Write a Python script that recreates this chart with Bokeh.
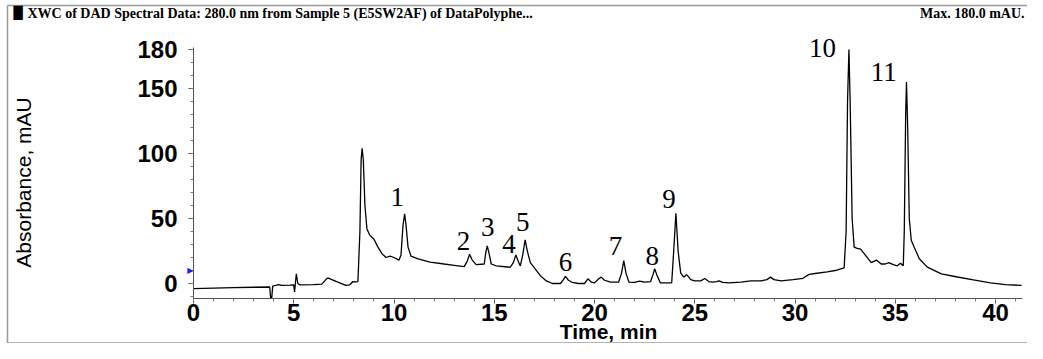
from bokeh.plotting import figure
from bokeh.models import Range1d, FixedTicker, Label, LabelSet, ColumnDataSource
from bokeh.embed import file_html
from bokeh.resources import INLINE

# ---- data ----
time_min = [0.0, 1.0, 2.0, 3.0, 3.80, 3.85, 3.90, 3.95, 4.1, 4.25, 4.4, 4.8, 5.0, 5.04, 5.08, 5.13, 5.2, 5.3,
            6.0, 6.4, 6.6, 6.7, 6.9, 7.2, 7.6, 7.8, 7.95, 8.1, 8.2, 8.3, 8.36, 8.41, 8.47, 8.55, 8.65, 8.8,
            9.0, 9.2, 9.4, 9.6, 9.8, 10.0, 10.25, 10.35, 10.45, 10.53, 10.6, 10.7, 10.85, 11.2, 11.8, 12.5,
            13.0, 13.5, 13.65, 13.77, 13.9, 14.1, 14.5, 14.58, 14.65, 14.73, 14.85, 15.1, 15.8, 15.95, 16.08,
            16.2, 16.3, 16.42, 16.54, 16.65, 16.8, 17.0, 17.3, 17.6, 17.9, 18.3, 18.45, 18.55, 18.7, 18.9,
            19.2, 19.5, 19.67, 19.85, 20.0, 20.2, 20.33, 20.5, 20.8, 21.2, 21.35, 21.46, 21.57, 21.72, 22.0,
            22.25, 22.5, 22.8, 22.92, 23.0, 23.1, 23.28, 23.85, 23.95, 24.06, 24.17, 24.3, 24.45, 24.6, 24.8,
            25.0, 25.3, 25.5, 25.7, 25.9, 26.1, 26.2, 26.4, 26.7, 27.3, 27.8, 28.3, 28.6, 28.78, 28.95, 29.3,
            29.9, 30.4, 30.7, 31.0, 31.6, 32.0, 32.45, 32.55, 32.62, 32.69, 32.75, 32.85, 32.95, 33.1, 33.27,
            33.5, 33.8, 34.06, 34.3, 34.5, 34.68, 34.9, 35.1, 35.26, 35.4, 35.45, 35.52, 35.56, 35.62, 35.7,
            35.8, 36.0, 36.2, 36.6, 37.3, 38.1, 38.9, 39.75, 40.5, 41.3]
absorbance = [-4.0, -3.6, -3.2, -2.9, -2.7, -11.5, -11.5, -2.0, -1.5, -0.8, -1.5, -1.3, -1.0, -6.5, 0.0, 7.5, 0.0, -1.0,
              -0.8, -0.5, 3.0, 4.3, 3.0, 1.0, -1.5, -1.0, 1.5, 1.2, 1.5, 40.0, 95.0, 104.0, 95.0, 60.0, 42.0, 37.0,
              34.0, 28.0, 23.0, 20.0, 21.0, 20.0, 18.0, 22.0, 45.0, 53.5, 45.0, 28.0, 21.0, 19.0, 16.5, 15.0,
              14.0, 13.0, 17.0, 22.5, 18.0, 14.5, 15.0, 24.0, 29.0, 24.0, 15.0, 13.5, 12.5, 16.0, 22.0,
              17.0, 13.5, 22.0, 33.5, 25.0, 16.0, 12.0, 6.0, 2.0, 0.0, 0.0, 3.0, 5.5, 2.5, 0.8,
              0.0, 0.0, 3.6, 1.0, 0.5, 3.5, 4.9, 2.5, 1.0, 1.0, 8.0, 17.7, 8.0, 1.0, 0.8,
              1.8, 1.0, 1.5, 7.0, 11.3, 7.0, 0.5, 0.5, 25.0, 54.0, 25.0, 8.0, 5.0, 6.8, 3.0,
              2.0, 2.0, 3.8, 1.5, 1.0, 1.5, 2.0, 0.8, 0.5, 1.0, 2.0, 2.0, 3.0, 4.9, 3.0, 2.0,
              3.0, 4.0, 7.0, 7.7, 9.0, 10.0, 12.0, 40.0, 140.0, 180.0, 140.0, 50.0, 28.0, 27.0, 26.5,
              22.0, 16.0, 18.0, 15.0, 15.0, 16.0, 14.5, 13.6, 15.6, 13.6, 40.0, 130.0, 155.0, 120.0, 50.0,
              33.0, 26.0, 19.0, 12.6, 7.4, 5.0, 2.8, 0.5, -0.8, -1.5]

peak_ids = ["1", "2", "3", "4", "5", "6", "7", "8", "9", "10", "11"]
peak_label_x = [10.16, 13.47, 14.68, 15.73, 16.42, 18.55, 21.05, 22.88, 23.71, 31.37, 34.43]
peak_label_y = [66.4, 33.0, 43.3, 30.5, 47.2, 16.4, 29.2, 21.5, 65.0, 181.5, 162.6]

x_major_ticks = [0, 5, 10, 15, 20, 25, 30, 35, 40]
y_major_ticks = [0, 50, 100, 150, 180]

header_left = "XWC of DAD Spectral Data: 280.0 nm from Sample 5 (E5SW2AF) of DataPolyphe..."
header_right = "Max. 180.0 mAU."
x_title = "Time, min"
y_title = "Absorbance, mAU"

# axis extents (data units)
X_AXIS_END = 41.35
Y_AXIS_MIN, Y_AXIS_MAX = -11.5, 181.5
# whole canvas in data units (frame fills the figure)
X_MIN, X_MAX = -9.626, 41.596
Y_MIN, Y_MAX = -46.15, 217.69

p = figure(width=1027, height=343, output_backend="svg", toolbar_location=None,
           x_range=Range1d(X_MIN, X_MAX), y_range=Range1d(Y_MIN, Y_MAX),
           min_border_left=0, min_border_right=0, min_border_top=0, min_border_bottom=0)
p.outline_line_color = None
p.xgrid.visible = False
p.ygrid.visible = False
p.background_fill_color = "white"
p.border_fill_color = "white"

# outer frame lines (left, top, bottom)
FL, FT, FB = -9.277, 213.85, -45.75
p.segment(x0=[FL, FL, FL], y0=[FB, FT, FB], x1=[FL, X_MAX, X_MAX], y1=[FT, FT, FB],
          line_color="#9a9a9a", line_width=1.5)

p.line(time_min, absorbance, line_color="black", line_width=1.3)

xa, ya = p.xaxis[0], p.yaxis[0]
xa.fixed_location = Y_AXIS_MIN
ya.fixed_location = 0
xa.bounds = (0, X_AXIS_END)
ya.bounds = (Y_AXIS_MIN, Y_AXIS_MAX)
for ax in (xa, ya):
    ax.axis_line_color = "#555555"
    ax.major_tick_line_color = "#555555"
    ax.minor_tick_line_color = "#777777"
    ax.major_tick_in = 0
    ax.major_tick_out = 5
    ax.minor_tick_in = 0
    ax.minor_tick_out = 3
    ax.major_label_text_font = "Liberation Sans"
    ax.major_label_text_font_style = "bold"
    ax.major_label_text_font_size = "24px"
    ax.major_label_text_color = "black"

xa.ticker = FixedTicker(ticks=x_major_ticks, minor_ticks=list(range(0, 42)))
ya.ticker = FixedTicker(ticks=y_major_ticks, minor_ticks=list(range(-10, 181, 10)))
xa.major_label_standoff = 1
ya.major_label_standoff = 11

# peak numbers
src = ColumnDataSource(dict(x=peak_label_x, y=peak_label_y, t=peak_ids))
p.add_layout(LabelSet(x="x", y="y", text="t", source=src, text_align="center", text_baseline="middle",
                      text_font="Liberation Serif", text_font_size="27px", text_color="black"))

# axis titles
p.add_layout(Label(x=20.7, y=-45.9, text=x_title, text_align="center", text_baseline="bottom",
                   text_font="Liberation Sans", text_font_style="bold", text_font_size="21px",
                   text_color="black"))
p.add_layout(Label(x=-8.48, y=77.7, text=y_title, angle=1.5708, text_align="center", text_baseline="middle",
                   text_font="Liberation Sans", text_font_size="21px", text_color="black"))

# header line
HY = 207.7
p.add_layout(Label(x=-8.98, y=HY, text="\u2588", text_align="left", text_baseline="middle",
                   text_font="DejaVu Sans", text_font_size="12px", text_color="black"))
p.add_layout(Label(x=-8.28, y=HY, text=header_left, text_align="left", text_baseline="middle",
                   text_font="Liberation Serif", text_font_style="bold", text_font_size="14px",
                   text_color="black"))
p.add_layout(Label(x=41.45, y=HY, text=header_right, text_align="right", text_baseline="middle",
                   text_font="Liberation Serif", text_font_style="bold", text_font_size="14px",
                   text_color="black"))

# small blue marker on the y axis
p.add_layout(Label(x=0, y=10, text="\u25B6", text_align="right", text_baseline="middle",
                   text_font="DejaVu Sans", text_font_size="8px", text_color="#1a1aff"))

open("out.html", "w").write(file_html(p, INLINE))
